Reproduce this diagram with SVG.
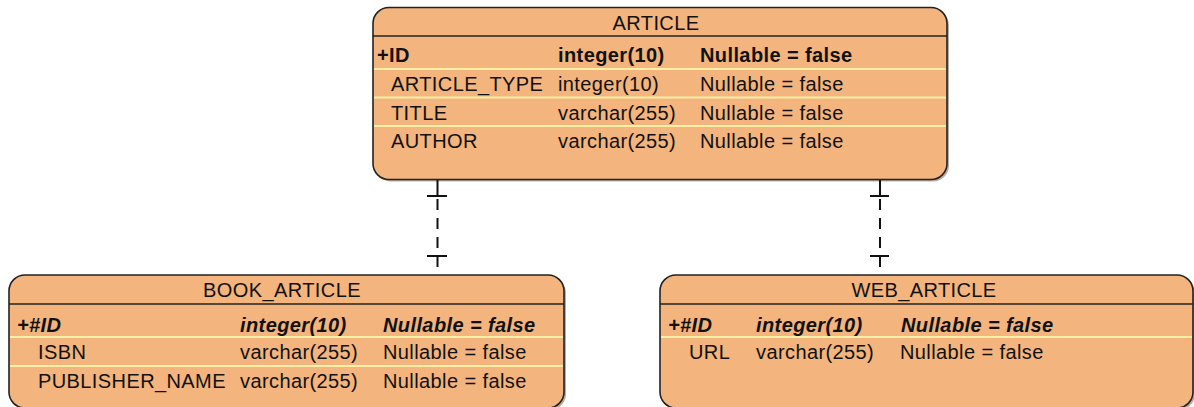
<svg xmlns="http://www.w3.org/2000/svg" width="1194" height="407" viewBox="0 0 1194 407">
  <style>
    .box { fill: #F3B47D; stroke: #222; stroke-width: 1.6; }
    .shadow { fill: #7a6a5a; opacity: 0.55; }
    .hdr { stroke: #222; stroke-width: 1.6; }
    .sep { stroke: #FFF0A8; stroke-width: 2; }
    text { font-family: "Liberation Sans", Arial, sans-serif; font-size: 20px; fill: #111; letter-spacing: 0.4px; }
    .title { text-anchor: middle; }
    .pk { font-weight: bold; }
    .fk { font-weight: bold; font-style: italic; }
    .conn { stroke: #111; stroke-width: 2; fill: none; }
    .dash { stroke-dasharray: 11 8; }
  </style>

  <!-- ARTICLE entity -->
  <g id="article">
    <rect class="shadow" x="375" y="9.5" width="574" height="172" rx="16"/>
    <rect class="box" x="373" y="7.5" width="574" height="172" rx="16"/>
    <line class="hdr" x1="373" y1="36" x2="947" y2="36"/>
    <line class="sep" x1="374" y1="69" x2="946" y2="69"/>
    <line class="sep" x1="374" y1="97.5" x2="946" y2="97.5"/>
    <line class="sep" x1="374" y1="126" x2="946" y2="126"/>
    <text class="title" x="656" y="30">ARTICLE</text>
    <text class="pk" x="377" y="62">+ID</text>
    <text class="pk" x="558" y="62">integer(10)</text>
    <text class="pk" x="700" y="62">Nullable = false</text>
    <text x="391" y="91">ARTICLE_TYPE</text>
    <text x="558" y="91">integer(10)</text>
    <text x="700" y="91">Nullable = false</text>
    <text x="391" y="119.5">TITLE</text>
    <text x="558" y="119.5">varchar(255)</text>
    <text x="700" y="119.5">Nullable = false</text>
    <text x="391" y="148">AUTHOR</text>
    <text x="558" y="148">varchar(255)</text>
    <text x="700" y="148">Nullable = false</text>
  </g>

  <!-- BOOK_ARTICLE entity -->
  <g id="book_article">
    <rect class="shadow" x="11" y="277" width="555" height="133" rx="16"/>
    <rect class="box" x="9" y="275" width="555" height="133" rx="16"/>
    <line class="hdr" x1="9" y1="304" x2="564" y2="304"/>
    <line class="sep" x1="10" y1="337" x2="563" y2="337"/>
    <line class="sep" x1="10" y1="366" x2="563" y2="366"/>
    <text class="title" x="282" y="297">BOOK_ARTICLE</text>
    <text class="fk" x="17" y="332">+#ID</text>
    <text class="fk" x="240" y="332">integer(10)</text>
    <text class="fk" x="383" y="332">Nullable = false</text>
    <text x="38" y="359">ISBN</text>
    <text x="240" y="359">varchar(255)</text>
    <text x="383" y="359">Nullable = false</text>
    <text x="38" y="388">PUBLISHER_NAME</text>
    <text x="240" y="388">varchar(255)</text>
    <text x="383" y="388">Nullable = false</text>
  </g>

  <!-- WEB_ARTICLE entity -->
  <g id="web_article">
    <rect class="shadow" x="662" y="277" width="533" height="133" rx="16"/>
    <rect class="box" x="660" y="275" width="533" height="133" rx="16"/>
    <line class="hdr" x1="660" y1="304" x2="1193" y2="304"/>
    <line class="sep" x1="661" y1="337" x2="1192" y2="337"/>
    <text class="title" x="924" y="297">WEB_ARTICLE</text>
    <text class="fk" x="668" y="332">+#ID</text>
    <text class="fk" x="756" y="332">integer(10)</text>
    <text class="fk" x="901" y="332">Nullable = false</text>
    <text x="689" y="359">URL</text>
    <text x="756" y="359">varchar(255)</text>
    <text x="900" y="359">Nullable = false</text>
  </g>

  <!-- one-to-one identifying relationships -->
  <g id="connectors">
    <g id="article-book">
      <line class="conn" x1="437.5" y1="180" x2="437.5" y2="196"/>
      <line class="conn" x1="427" y1="196" x2="447" y2="196"/>
      <line class="conn dash" x1="437.5" y1="199" x2="437.5" y2="256"/>
      <line class="conn" x1="427" y1="256" x2="447" y2="256"/>
      <line class="conn" x1="437.5" y1="256" x2="437.5" y2="267"/>
    </g>
    <g id="article-web">
      <line class="conn" x1="880" y1="180" x2="880" y2="196"/>
      <line class="conn" x1="870" y1="196" x2="889" y2="196"/>
      <line class="conn dash" x1="880" y1="199" x2="880" y2="256"/>
      <line class="conn" x1="870" y1="256" x2="889" y2="256"/>
      <line class="conn" x1="880" y1="256" x2="880" y2="267"/>
    </g>
  </g>
</svg>
